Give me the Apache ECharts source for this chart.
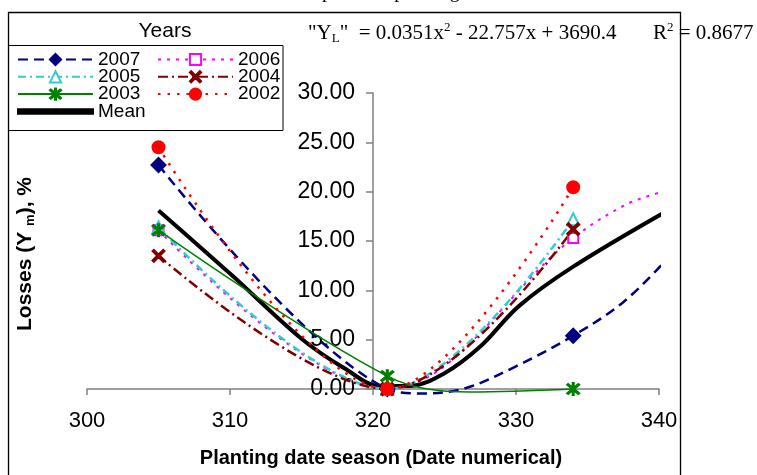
<!DOCTYPE html>
<html><head><meta charset="utf-8">
<script src="https://cdn.jsdelivr.net/npm/echarts@6/dist/echarts.min.js"></script>
<style>html,body{margin:0;padding:0;background:#fff}#c{width:757px;height:475px}</style>
</head><body><div id="c"></div>
<script>
// Planting dates (numerical) where each year's losses were measured
const markerDates = [305, 321, 334];
// Losses (%) per year at those dates
const y2007 = [22.7, 0.0, 5.4];
const y2006 = [16.1, 0.0, 15.3];
const y2005 = [16.4, 0.0, 17.2];
const y2004 = [13.5, 0.0, 16.2];
const y2003 = [16.1, 1.3, 0.0];
const y2002 = [24.5, 0.0, 20.45];
// extra points read off the drawn (smoothed) curves, no markers
const curve2007 = [[323.5, -0.45], [326.5, 0.1], [330, 2.3], [337.5, 8.8], [340.4, 12.9]];
const curve2006 = [[337.7, 18.7], [340.4, 20.05]];
const curve2003 = [[326.8, -0.3]];
// Mean curve
const meanX = [305, 310, 315, 318, 320.5, 322.5, 325, 327.5, 330.2, 334, 340.5];
const meanY = [18.1, 11.7, 5.1, 2.1, 0.3, 0.3, 1.6, 4.3, 8.4, 12.4, 18.0];
// axis ticks
const xTicks = [300, 310, 320, 330, 340];
const yTicks = [0, 5, 10, 15, 20, 25, 30];

const SANS = 'Liberation Sans, Arial, sans-serif';
const SERIF = 'Liberation Serif, Times New Roman, serif';
const xSym = 'path://M0,2.2 L2.2,0 L10,7.8 L17.8,0 L20,2.2 L12.2,10 L20,17.8 L17.8,20 L10,12.2 L2.2,20 L0,17.8 L7.8,10 Z';
const starSym = 'path://M0,1.6 L1.6,0 L10,8.4 L18.4,0 L20,1.6 L11.6,10 L20,18.4 L18.4,20 L10,11.6 L1.6,20 L0,18.4 L8.4,10 Z M9.1,-2 L10.9,-2 L10.9,22 L9.1,22 Z';

function build(ys, extra) {
  const pts = markerDates.map((x, i) => ({ value: [x, ys[i]] }));
  (extra || []).forEach(p => pts.push({ value: p, symbol: 'none' }));
  pts.sort((a, b) => a.value[0] - b.value[0]);
  return pts;
}
function line(name, data, color, type, width, symbol, size, z) {
  return {
    name, type: 'line', data, smooth: 0.35, clip: false, z: z,
    symbol, symbolSize: size, showSymbol: true,
    lineStyle: { color, type, width },
    itemStyle: { color, borderColor: color, borderWidth: 2 },
    emphasis: { disabled: true }
  };
}
const legendCommon = {
  orient: 'vertical', padding: 0, itemGap: -1.7,
  itemWidth: 75, itemHeight: 14, selectedMode: false,
  textStyle: { fontFamily: SANS, fontSize: 19, color: '#000' }
};

const chart = echarts.init(document.getElementById('c'));
chart.setOption({
  animation: false,
  backgroundColor: '#fff',
  grid: { left: 87, right: 98, top: 93, bottom: 86 },
  xAxis: {
    type: 'value', min: xTicks[0], max: xTicks[xTicks.length - 1], interval: 10,
    axisLine: { onZero: true, lineStyle: { color: '#808080', width: 1.5 } },
    axisTick: { length: 6, lineStyle: { color: '#808080', width: 1.5 } },
    axisLabel: { margin: 21, color: '#000', fontFamily: SANS, fontSize: 22 },
    splitLine: { show: false }
  },
  yAxis: {
    type: 'value', min: yTicks[0], max: yTicks[yTicks.length - 1], interval: 5,
    position: 'left', offset: -286,
    axisLine: { show: true, onZero: false, lineStyle: { color: '#808080', width: 1.5 } },
    axisTick: { show: true, length: 7, lineStyle: { color: '#808080', width: 1.5 } },
    axisLabel: { margin: 18, color: '#000', fontFamily: SANS, fontSize: 23, formatter: v => v.toFixed(2) },
    splitLine: { show: false }
  },
  legend: [
    Object.assign({}, legendCommon, {
      left: 17, top: 50,
      data: ['2007', '2005', '2003', { name: 'Mean', icon: 'path://M0,0h75v4.5h-75z' }]
    }),
    Object.assign({}, legendCommon, {
      left: 157, top: 50,
      data: ['2006', '2004', '2002']
    })
  ],
  series: [
    line('Mean', meanX.map((x, i) => [x, meanY[i]]), '#000', 'solid', 4, 'none', 0, 2),
    line('2007', build(y2007, curve2007), '#000080', [10, 6], 2.5, 'diamond', 14, 3),
    line('2006', build(y2006, curve2006), '#FF00FF', [3, 6], 2, 'emptyRect', 10, 3),
    line('2005', build(y2005, null), '#33CCCC', [8, 4, 2, 4], 2.5, 'emptyTriangle', 12, 3),
    line('2004', build(y2004, null), '#800000', [10, 4, 2, 4], 2.5, xSym, 12, 3),
    line('2003', build(y2003, curve2003), '#008000', 'solid', 1.5, starSym, 12, 3),
    line('2002', build(y2002, null), '#FF0000', [2.5, 7], 2.5, 'circle', 12, 4)
  ],
  graphic: [
    { type: 'rect', shape: { x: 8.5, y: 12.5, width: 672, height: 480 }, style: { fill: 'none', stroke: '#000', lineWidth: 1.3 }, z: 1 },
    { type: 'rect', shape: { x: 8.5, y: 45.5, width: 274.5, height: 85 }, style: { fill: 'none', stroke: '#000', lineWidth: 1 }, z: 1 },
    { type: 'text', x: 165, y: 31, style: { text: 'Years', font: '21px ' + SANS, fill: '#000', textAlign: 'center', textVerticalAlign: 'middle' } },
    { type: 'text', x: 308, y: 33, style: {
        text: '"Y{sub|L}"  = 0.0351x{sup|2} - 22.757x + 3690.4',
        fontFamily: SERIF, fontSize: 21, fill: '#000', lineHeight: 24, verticalAlign: 'middle',
        rich: { sub: { fontSize: 13, fontFamily: SERIF, verticalAlign: 'bottom', lineHeight: 13 }, sup: { fontSize: 13, fontFamily: SERIF, verticalAlign: 'top', lineHeight: 13 } }
      } },
    { type: 'text', x: 653, y: 33, style: {
        text: 'R{sup|2} = 0.8677',
        fontFamily: SERIF, fontSize: 21, fill: '#000', lineHeight: 24, verticalAlign: 'middle',
        rich: { sup: { fontSize: 13, fontFamily: SERIF, verticalAlign: 'top', lineHeight: 13 } }
      } },
    { type: 'text', x: 25, y: 254, rotation: Math.PI / 2, style: {
        text: 'Losses (Y {sub|m}), %', fontFamily: SANS, fontWeight: 'bold', fontSize: 21, fill: '#000',
        align: 'center', verticalAlign: 'middle', lineHeight: 24,
        rich: { sub: { fontSize: 13, fontWeight: 'bold', fontFamily: SANS, verticalAlign: 'bottom', lineHeight: 14 } }
      } },
    { type: 'text', x: 381, y: 458, style: { text: 'Planting date season (Date numerical)', font: 'bold 20px ' + SANS, fill: '#000', textAlign: 'center', textVerticalAlign: 'middle' } },
    { type: 'text', x: 360, y: -8, style: { text: 'Yield loss response to planting dates', font: '20px ' + SERIF, fill: '#000', textAlign: 'center', textVerticalAlign: 'middle' } }
  ]
});
</script>
</body></html>
